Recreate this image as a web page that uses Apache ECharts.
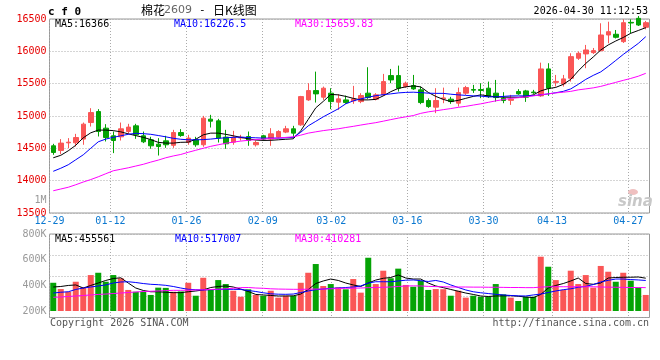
<!DOCTYPE html>
<html><head><meta charset="utf-8">
<script src="https://cdn.jsdelivr.net/npm/echarts@6/dist/echarts.min.js"></script>
<style>html,body{margin:0;padding:0;background:#fff}#c{width:660px;height:360px}</style>
</head><body><div id="c"></div>
<script>
const dates = ['12-29','12-30','12-31',
 '01-05','01-06','01-07','01-08','01-09','01-12','01-13','01-14','01-15','01-16',
 '01-19','01-20','01-21','01-22','01-23','01-26','01-27','01-28','01-29','01-30',
 '02-02','02-03','02-04','02-05','02-06','02-09','02-10','02-11','02-12','02-13',
 '02-24','02-25','02-26','02-27',
 '03-02','03-03','03-04','03-05','03-06','03-09','03-10','03-11','03-12','03-13',
 '03-16','03-17','03-18','03-19','03-20','03-23','03-24','03-25','03-26','03-27',
 '03-30','03-31','04-01','04-02','04-03','04-07','04-08','04-09','04-10',
 '04-13','04-14','04-15','04-16','04-17','04-20','04-21','04-22','04-23','04-24',
 '04-27','04-28','04-29','04-30'];
const labelDates = ['12-29','01-12','01-26','02-09','03-02','03-16','03-30','04-13','04-27'];

const priceOpen = [14539,14467,14585,14585,14643,14899,15069,14812,14694,14678,
 14760,14848,14694,14632,14565,14616,14547,14744,14593,14632,
 14555,14951,14925,14673,14596,14660,14683,14555,14694,14643,
 14673,14751,14802,14863,15249,15393,15291,15353,15214,15249,
 15234,15223,15353,15260,15327,15625,15625,15455,15470,15404,
 15239,15137,15265,15260,15198,15353,15410,15410,15430,15353,
 15276,15242,15378,15388,15370,15311,15728,15520,15496,15584,
 15893,15960,15980,16011,16253,16264,16150,16448,16510,16372];
const priceClose = [14436,14581,14595,14667,14874,15053,14760,14667,14621,14802,
 14828,14709,14601,14539,14528,14555,14744,14698,14658,14555,
 14967,14920,14658,14570,14673,14670,14621,14590,14643,14724,
 14760,14802,14735,15300,15393,15342,15430,15223,15265,15208,
 15265,15316,15285,15327,15532,15558,15430,15507,15419,15208,
 15146,15239,15280,15223,15362,15439,15400,15395,15300,15285,
 15239,15260,15342,15291,15360,15728,15430,15535,15574,15918,
 15970,16021,16011,16253,16304,16217,16443,16438,16407,16443];
const priceLow = [14400,14410,14504,14528,14555,14837,14683,14606,14426,14621,
 14724,14647,14581,14493,14389,14508,14508,14678,14555,14524,
 14524,14822,14590,14493,14555,14621,14539,14528,14616,14539,
 14655,14735,14658,14848,15234,15208,15249,15106,15095,15188,
 15188,15198,15265,15242,15311,15507,15378,15435,15404,15183,
 15126,15044,15198,15188,15146,15327,15357,15276,15280,15223,
 15198,15172,15327,15218,15342,15296,15311,15455,15455,15532,
 15867,15739,15960,15998,16125,16199,16129,16279,16392,16340];
const priceHigh = [14570,14643,14658,14724,14899,15121,15106,14874,14760,14899,
 14879,14879,14760,14678,14658,14694,14786,14797,14709,14678,
 15002,15018,14956,14786,14771,14709,14760,14621,14709,14812,
 14781,14848,14848,15311,15507,15686,15455,15430,15337,15316,
 15466,15353,15754,15353,15651,15728,15779,15532,15635,15455,
 15273,15430,15439,15296,15439,15466,15481,15507,15532,15558,
 15368,15327,15415,15404,15404,15825,15816,15635,15635,15970,
 15998,16099,16052,16434,16458,16330,16495,16495,16546,16470];

const ma5 = [14354,14392,14462,14547,14663,14740,14782,14782,14774,14755,
 14724,14697,14670,14635,14593,14581,14581,14593,14596,14640,
 14709,14735,14735,14717,14694,14670,14647,14629,14622,14624,
 14632,14640,14647,14771,14948,15126,15226,15334,15327,15303,
 15273,15249,15249,15257,15311,15376,15427,15450,15466,15450,
 15365,15303,15257,15223,15242,15273,15303,15327,15311,15296,
 15291,15291,15288,15299,15327,15388,15424,15442,15489,15566,
 15697,15813,15913,16021,16099,16160,16214,16279,16322,16366];
const ma10 = [14145,14192,14246,14323,14400,14501,14601,14643,14670,14694,
 14717,14732,14727,14717,14698,14678,14655,14640,14632,14632,
 14635,14643,14655,14663,14670,14673,14668,14663,14658,14658,
 14658,14663,14670,14748,14848,14917,14987,15049,15111,15188,
 15234,15265,15291,15314,15330,15342,15357,15365,15368,15362,
 15353,15350,15350,15337,15327,15319,15311,15308,15296,15296,
 15303,15311,15311,15311,15316,15327,15342,15360,15381,15419,
 15489,15566,15628,15682,15767,15859,15952,16037,16122,16226.5];
const ma30 = [13844,13871,13898,13937,13979,14017,14060,14107,14153,14176,
 14199,14226,14253,14287,14318,14354,14382,14405,14439,14470,
 14501,14531,14555,14578,14596,14612,14624,14635,14644,14652,
 14660,14669,14678,14704,14735,14755,14774,14789,14802,14822,
 14840,14860,14879,14897,14920,14944,14967,14987,15007,15041,
 15064,15080,15098,15115,15134,15149,15169,15188,15211,15234,
 15254,15273,15283,15296,15311,15327,15342,15357,15368,15381,
 15404,15419,15435,15458,15489,15520,15551,15581,15615,15659.83];

const volume = [420000,371000,350000,428000,385000,480000,498000,428000,480000,455000,
 364000,350000,350000,325000,382000,380000,350000,352000,420000,319000,
 459000,364000,441000,410000,358000,311000,369000,325000,319000,358000,
 304000,319000,318000,420000,498000,566000,395000,410000,385000,369000,
 449000,343000,615000,410000,514000,455000,530000,403000,389000,436000,
 364000,371000,370000,319000,358000,304000,319000,311000,312000,410000,
 330000,304000,278000,311000,311000,623000,545000,441000,364000,514000,
 410000,480000,382000,551000,506000,428000,498000,436000,382000,325000];
const volMa5 = [387000,391000,399000,403000,379000,399000,418000,438000,453000,459000,
 418000,379000,360000,350000,350000,346000,343000,343000,350000,356000,
 364000,383000,391000,395000,387000,371000,352000,329000,325000,321000,
 317000,317000,318000,332000,367000,414000,434000,449000,438000,418000,
 403000,391000,418000,441000,455000,461000,481000,457000,449000,449000,
 418000,395000,382000,368000,354000,340000,329000,317000,313000,317000,
 318000,319000,315000,309000,304000,329000,379000,399000,414000,434000,
 457000,414000,408000,418000,457000,461000,463000,463000,465000,455561];
const volMa10 = [340000,346000,350000,368000,379000,387000,395000,403000,418000,426000,
 428000,422000,414000,408000,405000,400000,391000,379000,369000,366000,
 364000,366000,368000,369000,369000,368000,360000,352000,342000,334000,
 331000,330000,332000,344000,356000,366000,371000,377000,379000,383000,
 387000,395000,418000,428000,428000,428000,434000,440000,442000,436000,
 430000,438000,426000,403000,383000,364000,350000,342000,336000,330000,
 325000,321000,318000,317000,325000,332000,344000,356000,366000,373000,
 385000,392000,406000,426000,439000,449000,449000,445000,442000,438000];
const volMa30 = [307000,309000,313000,317000,321000,325000,329000,332000,336000,340000,
 344000,348000,352000,354000,356000,359000,361000,361000,362000,364000,
 365000,368000,370000,373000,377000,382000,383000,379000,377000,373000,
 371000,370000,369000,369000,370000,371000,371000,373000,375000,377000,
 378000,379000,382000,383000,385000,387000,391000,395000,396000,395000,
 392000,390000,389000,387000,387000,387000,386000,386000,385000,385000,
 384000,383000,383000,382000,382000,386000,389000,389000,389000,389000,
 389000,389000,389000,387000,386000,385000,384000,383000,383000,382000];

const priceTicks = [13500, 14000, 14500, 15000, 15500, 16000, 16500];
const volTicks = [200000, 400000, 600000, 800000];

const MONO = '"DejaVu Sans Mono", monospace';
const UP = '#fa5656', DOWN = '#05a305';
const GRIDLINE = {color: '#aaa', width: 1, type: [1, 2]};
const labelIdx = labelDates.map(d => dates.indexOf(d));

const chart = echarts.init(document.getElementById('c'), null, {renderer: 'canvas'});

const candleData = priceOpen.map((o, i) => [o, priceClose[i], priceLow[i], priceHigh[i]]);

function txt(x, y, text, fill, font, align) {
  return {type: 'text', x: x, y: y, silent: true, z: 100,
    style: {text: text, fill: fill, font: font || ('10px ' + MONO), align: align || 'left', verticalAlign: 'middle'}};
}

const option = {
  animation: false,
  backgroundColor: '#fff',
  grid: [
    {left: 49.5, width: 600, top: 19, height: 194, show: true, borderColor: '#999', borderWidth: 1, backgroundColor: 'transparent'},
    {left: 49.5, width: 600, top: 234, height: 77, show: false},
    {left: 49.5, width: 600, top: 234, height: 83.5, show: true, borderColor: '#999', borderWidth: 1, backgroundColor: 'transparent'}
  ],
  xAxis: [
    {type: 'category', gridIndex: 0, data: dates, show: false, boundaryGap: true},
    {type: 'value', gridIndex: 0, min: 0, max: 78.8, position: 'bottom',
      axisLine: {show: false}, axisTick: {show: false, customValues: labelIdx},
      axisLabel: {customValues: labelIdx, formatter: v => labelDates[labelIdx.indexOf(v)] || '',
        color: '#0b78d0', fontFamily: MONO, fontSize: 10, margin: 3},
      splitLine: {show: true, lineStyle: GRIDLINE}},
    {type: 'category', gridIndex: 1, data: dates, show: false, boundaryGap: true},
    {type: 'value', gridIndex: 2, min: 0, max: 78.8, position: 'bottom',
      axisLine: {show: false}, axisTick: {show: false, customValues: labelIdx},
      axisLabel: {show: false, customValues: labelIdx},
      splitLine: {show: true, lineStyle: GRIDLINE}}
  ],
  yAxis: [
    {type: 'value', gridIndex: 0, min: priceTicks[0], max: priceTicks[priceTicks.length - 1], interval: 500, position: 'left',
      axisLine: {show: false}, axisTick: {show: false},
      axisLabel: {color: '#e60000', fontFamily: MONO, fontSize: 10, margin: 3, padding: [0, 0, 5, 0],
        formatter: v => String(v)},
      splitLine: {show: true, lineStyle: GRIDLINE}},
    {type: 'value', gridIndex: 1, min: volTicks[0], max: volTicks[volTicks.length - 1], interval: 200000, position: 'left',
      axisLine: {show: false}, axisTick: {show: false},
      axisLabel: {color: '#999', fontFamily: MONO, fontSize: 10, margin: 3, padding: [0, 0, 5, 0],
        formatter: v => (v / 1000) + 'K'},
      splitLine: {show: false}},
    {type: 'value', gridIndex: 2, min: 0, max: 4, interval: 1, position: 'left',
      axisLine: {show: false}, axisTick: {show: false}, axisLabel: {show: false},
      splitLine: {show: true, lineStyle: GRIDLINE}}
  ],
  series: [
    {type: 'candlestick', xAxisIndex: 0, yAxisIndex: 0, data: candleData, barWidth: 5,
      itemStyle: {color: UP, color0: DOWN, borderColor: UP, borderColor0: DOWN, borderWidth: 1}},
    {type: 'line', xAxisIndex: 0, yAxisIndex: 0, data: ma5, symbol: 'none', lineStyle: {color: '#000', width: 1}},
    {type: 'line', xAxisIndex: 0, yAxisIndex: 0, data: ma10, symbol: 'none', lineStyle: {color: '#0000ff', width: 1}},
    {type: 'line', xAxisIndex: 0, yAxisIndex: 0, data: ma30, symbol: 'none', lineStyle: {color: '#ff00ff', width: 1}},
    {type: 'bar', xAxisIndex: 2, yAxisIndex: 1, data: volume, barWidth: 6,
      itemStyle: {color: p => priceClose[p.dataIndex] >= priceOpen[p.dataIndex] ? UP : DOWN}},
    {type: 'line', xAxisIndex: 2, yAxisIndex: 1, data: volMa5, symbol: 'none', lineStyle: {color: '#000', width: 1}},
    {type: 'line', xAxisIndex: 2, yAxisIndex: 1, data: volMa10, symbol: 'none', lineStyle: {color: '#0000ff', width: 1}},
    {type: 'line', xAxisIndex: 2, yAxisIndex: 1, data: volMa30, symbol: 'none', lineStyle: {color: '#ff00ff', width: 1}}
  ],
  graphic: [
    txt(48, 12, 'c f 0', '#000', 'bold 11px ' + MONO),
    txt(141, 10, '棉花', '#000', '12px "Noto Sans CJK SC"'),
    txt(164, 10.5, '2609', '#666', '11px "DejaVu Sans"'),
    txt(199, 10.5, '-', '#000', '11px ' + MONO),
    txt(213, 10, '日K线图', '#000', '12px "Noto Sans CJK SC"'),
    txt(648, 11.5, '2026-04-30 11:12:53', '#000', '10px ' + MONO, 'right'),
    txt(55, 24, 'MA5:16366', '#000'),
    txt(174, 24, 'MA10:16226.5', '#0000ff'),
    txt(295, 24, 'MA30:15659.83', '#ff00ff'),
    txt(55, 239, 'MA5:455561', '#000'),
    txt(175, 239, 'MA10:517007', '#0000ff'),
    txt(295, 239, 'MA30:410281', '#ff00ff'),
    txt(46.5, 200.5, '1M', '#999', '10px ' + MONO, 'right'),
    txt(50, 323.5, 'Copyright 2026 SINA.COM', '#555'),
    txt(649, 323.5, 'http://finance.sina.com.cn', '#555', '10px ' + MONO, 'right'),
    {type: 'circle', shape: {cx: 633, cy: 192, r: 5}, scaleY: 0.6, originY: 192, style: {fill: '#efc0c0'}, silent: true, z: 1},
    txt(618, 202, 'sina', '#c8c8c8', 'italic bold 15px "DejaVu Sans"')
  ]
};
chart.setOption(option);
</script>
</body></html>
